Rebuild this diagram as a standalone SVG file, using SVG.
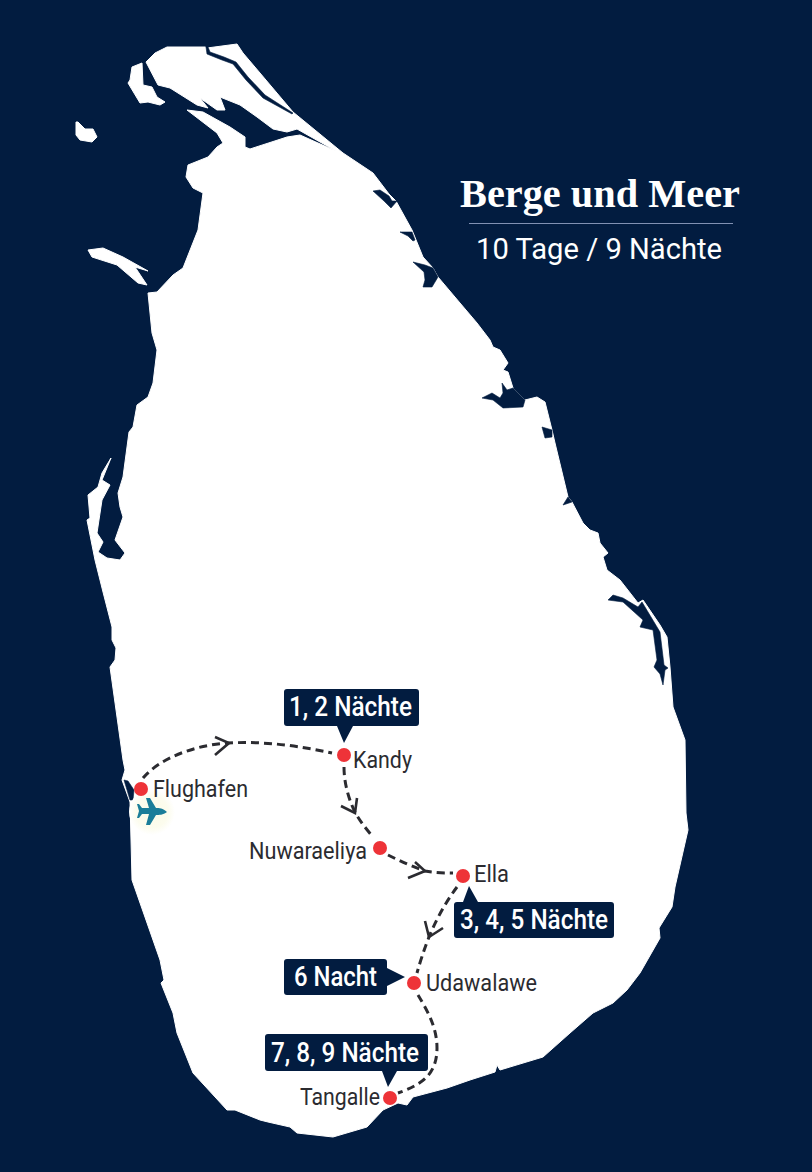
<svg xmlns="http://www.w3.org/2000/svg" width="812" height="1172" viewBox="0 0 812 1172">
<style>
.land{fill:#fff;stroke:#fff;stroke-width:1;stroke-linejoin:round}
.sea{fill:#021c40;stroke:#021c40;stroke-width:.6;stroke-linejoin:round}
.route{fill:none;stroke:#2b2b30;stroke-width:3;stroke-dasharray:8 5}
.chev{fill:none;stroke:#2b2b30;stroke-width:2.6}
.dot{fill:#ee3338}
.tag{fill:#021c40}
.box{font-family:"Roboto","Liberation Sans",sans-serif;font-size:28px;fill:#fff;font-weight:500}
.lab{font-family:"Roboto","Liberation Sans",sans-serif;font-size:23.5px;fill:#2b2b30}
</style>
<defs>
<radialGradient id="glow"><stop offset="0" stop-color="#fbfbe6"/><stop offset=".7" stop-color="#fcfcee"/><stop offset="1" stop-color="#fff"/></radialGradient>
</defs>
<rect width="812" height="1172" fill="#021c40"/>
<g id="map">
<polygon class="land" points="146,62 155,53 167,47 205,47 207,48 237,44 243,53 260,73 293,112 343,153 373,173 389,194 396,201 412,230 423,257 433,268 438,277 460,303 477,323 490,340 493,347 500,350 508,363 503,370 508,372 513,388 525,400 537,397 545,402 552,430 555,443 568,497 572,502 583,523 590,530 598,533 600,543 608,553 603,557 607,570 620,580 638,603 643,600 660,625 667,637 670,667 673,707 685,740 686,813 688,830 675,887 672,907 659,928 660,938 640,973 627,990 613,1003 593,1013 570,1033 543,1057 500,1070 497,1065 495,1072 470,1080 447,1088 413,1097 407,1105 398,1103 383,1110 367,1127 333,1137 297,1133 290,1127 268,1122 260,1120 235,1110 227,1110 193,1073 177,1033 173,1013 161,983 164,980 160,960 132,880 131,840 130,802 122,780 125,770 123,760 110,667 115,660 116,648 112,640 112,627 103,592 95,560 87,520 90,518 88,495 98,487 102,473 111,458 102,480 110,485 102,500 97,533 103,542 98,552 107,558 120,560 125,553 115,540 123,517 120,507 118,493 123,477 129,432 133,427 137,405 148,397 153,383 157,350 152,333 148,293 157,292 173,275 183,268 198,230 203,193 193,188 186,177 188,165 208,157 217,147 223,143 217,133 187,110 203,112 230,127 245,137 245,147 250,149 287,137 300,135 336,151 297,129 287,132 273,129 257,117 240,105 220,97 225,110 217,110 200,98 208,108 197,105 170,88 158,85"/>
<polygon class="land" points="130,80 132,67 142,63 143,85 152,87 157,97 165,102 160,105 148,102 140,103 128,83"/>
<polygon class="land" points="76,122 78,122 85,129 93,129 97,137 92,142 80,140 76,135"/>
<polygon class="land" points="88,250 103,248 123,257 148,271 135,267 147,285 138,283 117,265 92,257"/>
<polygon class="sea" points="206,47 207,54 222,60 233,64 246,80 263,98 292,114 293,113 265,95 248,77 236,62 224,57 210,52 208,47"/>
<polygon class="sea" points="373,191 380,190 389,196 392,201 397,201 391,208 384,201"/>
<polygon class="sea" points="400,232 412,232 415,240 413,241 408,236"/>
<polygon class="sea" points="413,262 425,265 433,268 438,277 432,287 423,287 425,280 424,272"/>
<polygon class="sea" points="482,398 492,393 500,398 503,393 502,383 507,390 513,388 525,400 523,407 503,408 493,400"/>
<polygon class="sea" points="542,427 552,430 552,437 545,438"/>
<polygon class="sea" points="563,505 568,497 572,502"/>
<polygon class="sea" points="608,600 613,595 623,598 638,607 642,602 660,632 664,665 668,668 665,670 663,685 660,674 654,667 657,660 653,630 640,627 643,620 623,602"/>
<polygon class="sea" points="124,780 128,781 134,790 133,800 130,800"/>
</g>
<ellipse cx="152" cy="812" rx="23" ry="23" fill="url(#glow)"/>
<path id="plane" fill="#1a7d99" d="M167,812 C163,808 159,808 156,808 L150,798 L146,798 L149,808 L142,808 L139,804 L137,804 L139,811 L137,818 L139,818 L142,814 L149,814 L146,825 L150,825 L156,815 C159,815 163,815 167,812 Z"/>
<g id="connectors">
<path class="route" d="M143,778 C160,758 195,745 228,743 C265,741 300,746 332,753"/>
<path class="route" d="M344,767 C344,785 350,803 356,814 C362,824 368,831 373,837"/>
<path class="route" d="M388,855 C400,861 413,867 425,871 C435,873 445,873 453,873"/>
<path class="route" d="M457,887 C445,903 435,922 429,937 C424,950 420,962 417,973"/>
<path class="route" d="M418,995 C427,1010 437,1027 437,1048 C437,1076 420,1085 398,1093"/>
<polyline class="chev" points="215,737 229,743 215,755"/>
<polyline class="chev" points="357,798 355,813 341,806"/>
<polyline class="chev" points="415,862 425,871 408,878"/>
<polyline class="chev" points="425,921 429,937 443,928"/>
</g>
<g id="kandy">
<path class="tag" d="M287,689 H416 Q419,689 419,692 V723 Q419,726 416,726 H353 L344,743 L337,726 H287 Q284,726 284,723 V692 Q284,689 287,689 Z"/>
<text class="box" x="289" y="716" textLength="123" lengthAdjust="spacingAndGlyphs">1, 2 Nächte</text>
<circle class="dot" cx="344" cy="755" r="7"/>
<text class="lab" x="353" y="768" textLength="59" lengthAdjust="spacingAndGlyphs">Kandy</text>
</g>
<g id="flughafen">
<circle class="dot" cx="141" cy="789" r="7"/>
<text class="lab" x="153" y="797" textLength="95" lengthAdjust="spacingAndGlyphs">Flughafen</text>
</g>
<g id="nuwaraeliya">
<circle class="dot" cx="380" cy="848" r="7"/>
<text class="lab" x="249" y="859" textLength="118" lengthAdjust="spacingAndGlyphs">Nuwaraeliya</text>
</g>
<g id="ella">
<circle class="dot" cx="463" cy="876" r="7"/>
<text class="lab" x="474" y="882" textLength="35" lengthAdjust="spacingAndGlyphs">Ella</text>
<path class="tag" d="M457,902 H463 L469,886 L478,902 H611 Q614,902 614,905 V935 Q614,938 611,938 H457 Q454,938 454,935 V905 Q454,902 457,902 Z"/>
<text class="box" x="460" y="929" textLength="148" lengthAdjust="spacingAndGlyphs">3, 4, 5 Nächte</text>
</g>
<g id="udawalawe">
<circle class="dot" cx="414" cy="983" r="7"/>
<text class="lab" x="426" y="991" textLength="111" lengthAdjust="spacingAndGlyphs">Udawalawe</text>
<path class="tag" d="M287,959 H384 Q387,959 387,962 V968 L405,977 L387,986 V992 Q387,995 384,995 H287 Q284,995 284,992 V962 Q284,959 287,959 Z"/>
<text class="box" x="294" y="986" textLength="83" lengthAdjust="spacingAndGlyphs">6 Nacht</text>
</g>
<g id="tangalle">
<path class="tag" d="M268,1034 H425 Q428,1034 428,1037 V1068 Q428,1071 425,1071 H397 L388,1087 L382,1071 H268 Q265,1071 265,1068 V1037 Q265,1034 268,1034 Z"/>
<text class="box" x="271" y="1062" textLength="148" lengthAdjust="spacingAndGlyphs">7, 8, 9 Nächte</text>
<circle class="dot" cx="390" cy="1098" r="7"/>
<text class="lab" x="300" y="1105" textLength="80" lengthAdjust="spacingAndGlyphs">Tangalle</text>
</g>
<g id="title">
<text x="460" y="207" font-family="'Liberation Serif',serif" font-weight="700" font-size="40" fill="#fff" textLength="280" lengthAdjust="spacingAndGlyphs">Berge und Meer</text>
<line x1="469" y1="223.500" x2="733" y2="223.500" stroke="#8191b3" stroke-width="1"/>
<text x="476" y="259" font-family="Roboto,'Liberation Sans',sans-serif" font-size="30" fill="#fff" textLength="246" lengthAdjust="spacingAndGlyphs">10 Tage / 9 Nächte</text>
</g>
</svg>
